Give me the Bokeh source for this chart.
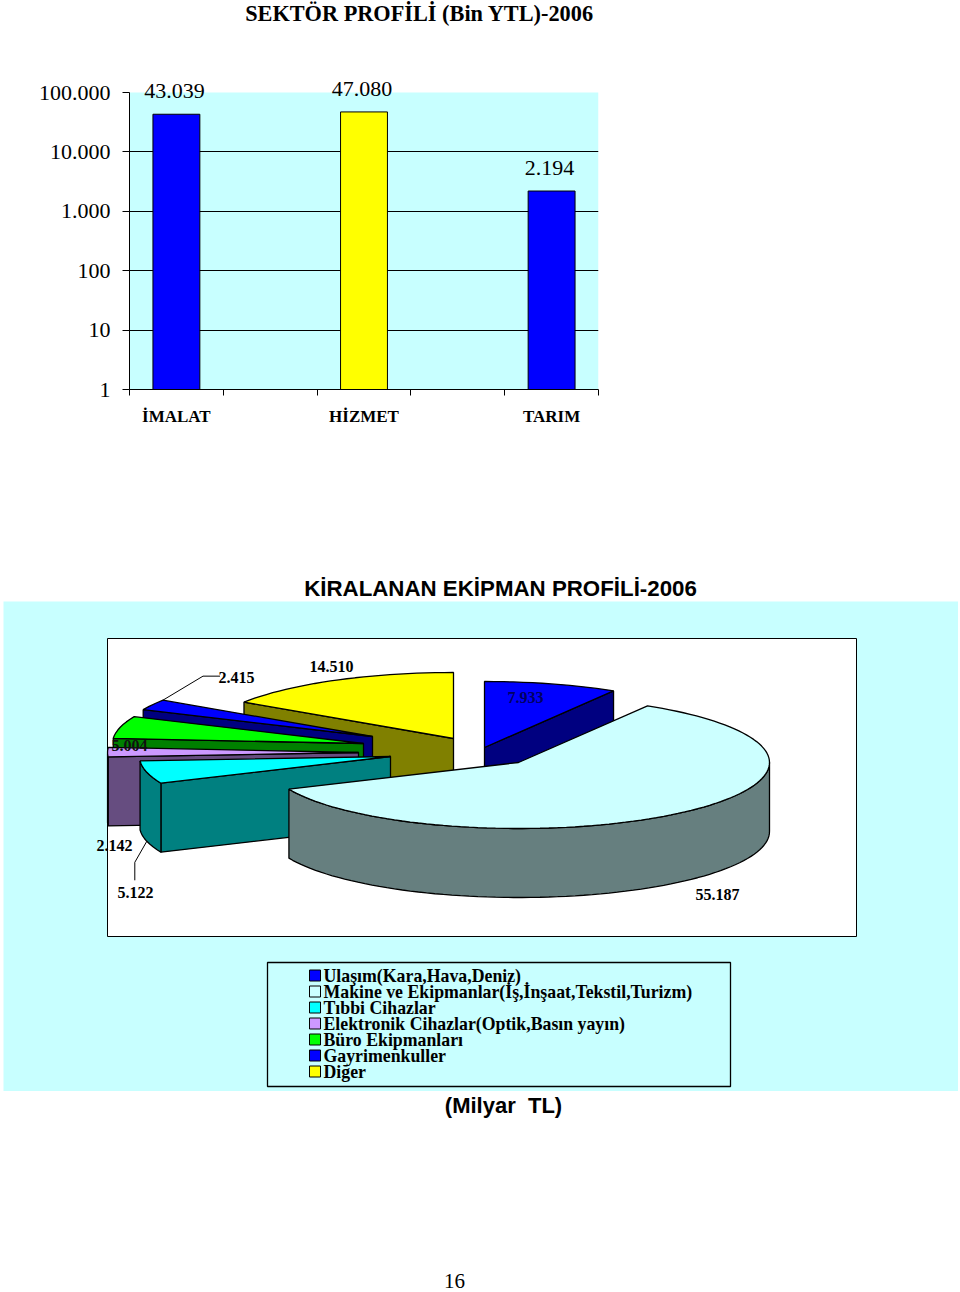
import numpy as np
from bokeh.embed import file_html
from bokeh.layouts import column
from bokeh.models import (BoxAnnotation, ColumnDataSource, FixedTicker, Grid, Label, LabelSet,
                          LinearAxis, Range1d)
from bokeh.plotting import figure
from bokeh.resources import INLINE

# ---- data: sector profile ----
sector_names = ["İMALAT", "HİZMET", "TARIM"]
sector_values = [43039, 47080, 2194]
sector_labels = ["43.039", "47.080", "2.194"]
sector_colors = ["#0000ff", "#ffff00", "#0000ff"]
log_ticks = [1, 10, 100, 1000, 10000, 100000]
log_tick_labels = ["1", "10", "100", "1.000", "10.000", "100.000"]

# ---- data: leased equipment profile ----
equipment_names = ["Ulaşım(Kara,Hava,Deniz)", "Makine ve Ekipmanlar(İş,İnşaat,Tekstil,Turizm)", "Tıbbi Cihazlar",
                   "Elektronik Cihazlar(Optik,Basın yayın)", "Büro Ekipmanları", "Gayrimenkuller", "Diğer"]
equipment_values = [7.933, 55.187, 5.122, 2.142, 5.004, 2.415, 14.510]
equipment_labels = ["7.933", "55.187", "5.122", "2.142", "5.004", "2.415", "14.510"]
top_colors = ["#0000ff", "#ccffff", "#00ffff", "#cc99ff", "#00ff00", "#0000ff", "#ffff00"]
side_colors = ["#000080", "#667f7f", "#008080", "#664d80", "#008000", "#000080", "#808000"]

CYAN = "#c8ffff"
SERIF = "Liberation Serif"
SANS = "Liberation Sans"


def text_strip(height, labels):
    """A bare strip of page that only carries text."""
    s = figure(width=960, height=height, output_backend="svg", toolbar_location=None, frame_align=False,
               x_range=Range1d(0, 1), y_range=Range1d(0, 1), x_axis_type=None, y_axis_type=None,
               min_border=0, outline_line_color=None)
    s.xgrid.visible = False
    s.ygrid.visible = False
    for kw in labels:
        s.add_layout(Label(x_units="screen", y_units="screen", text_align="center", text_baseline="middle",
                           text_color="black", **kw))
    return s


p0 = text_strip(70, [dict(x=419, y=57, text="SEKTÖR PROFİLİ (Bin YTL)-2006", text_font=SERIF,
                          text_font_style="bold", text_font_size="22.3px")])

# ---- bar chart ----
L, R, T, B = 129, 598, 70, 389
p1 = figure(width=960, height=400, output_backend="svg", toolbar_location=None, frame_align=False,
            x_range=Range1d(0, 5), y_range=Range1d(1, 10 ** (5 * (B - T) / 297)), y_axis_type="log",
            min_border_left=L, min_border_right=960 - R, min_border_top=0, min_border_bottom=400 - (B - T))
p1.outline_line_color = None
p1.xgrid.visible = False
p1.ygrid.visible = False
p1.quad(left=0, right=5, bottom=1, top=log_ticks[-1], fill_color=CYAN, line_color=None, level="image")
ax = p1.yaxis[0]
ax.ticker = FixedTicker(ticks=log_ticks)
ax.bounds = (1, log_ticks[-1])
ax.major_label_overrides = dict(zip(log_ticks, log_tick_labels))
ax.axis_line_color = "black"
ax.major_tick_line_color = "black"
ax.major_tick_in = 0
ax.major_tick_out = 7
ax.minor_tick_line_color = None
ax.major_label_standoff = 12
ax.major_label_text_font = SERIF
ax.major_label_text_font_size = "22px"
ax.major_label_text_color = "black"
p1.add_layout(Grid(dimension=1, ticker=FixedTicker(ticks=log_ticks[1:-1]), axis=ax, grid_line_color="black",
                   grid_line_width=1.2), "center")
xa = p1.xaxis[0]
xa.ticker = FixedTicker(ticks=list(range(6)))
xa.major_label_overrides = {i: " " for i in range(6)}
xa.axis_line_color = "black"
xa.major_tick_line_color = "black"
xa.major_tick_in = 0
xa.major_tick_out = 6
xa.minor_tick_line_color = None
xa.major_label_text_font_size = "1px"
xa.major_label_standoff = 0
bar_x = [0.5, 2.5, 4.5]
xb = LinearAxis(ticker=FixedTicker(ticks=bar_x), major_label_overrides=dict(zip(bar_x, sector_names)),
                axis_line_color=None, major_tick_line_color=None, minor_tick_line_color=None,
                major_label_standoff=1, major_label_text_font=SERIF, major_label_text_font_style="bold",
                major_label_text_font_size="17px", major_label_text_color="black")
p1.add_layout(xb, "below")
src1 = ColumnDataSource(dict(x=bar_x, top=sector_values, label=sector_labels, color=sector_colors,
                             bottom=[1, 1, 1]))
p1.vbar(x="x", top="top", bottom="bottom", width=0.5, fill_color="color", line_color="black", source=src1)
p1.add_layout(LabelSet(x="x", y="top", text="label", source=src1, y_offset=16, x_offset=-2, text_align="center",
                       text_baseline="bottom", text_font=SERIF, text_font_size="22px", text_color="black"))

pk = text_strip(131, [dict(x=500, y=13, text="KİRALANAN EKİPMAN PROFİLİ-2006", text_font=SANS,
                           text_font_style="bold", text_font_size="22.3px")])

# ---- 3-D exploded pie; data units are pixels of this cyan panel ----
PW, PH = 955, 490
p2 = figure(width=PW, height=PH, output_backend="svg", toolbar_location=None, frame_align=False,
            x_range=Range1d(0, PW), y_range=Range1d(0, PH), x_axis_type=None, y_axis_type=None,
            min_border=0, background_fill_color=CYAN, outline_line_color=None)
p2.xgrid.visible = False
p2.ygrid.visible = False
p2.styles = {"margin-left": "3px"}
p2.add_layout(BoxAnnotation(left=104, right=853, bottom=155, top=453, fill_color="white", fill_alpha=1,
                            line_color="black", line_alpha=1, line_width=1, level="underlay"))

RX, RY, DEPTH = 251, 66, 69
centers = [(481, 344), (515, 329), (387, 335), (355, 339), (360, 348), (369, 355), (450, 353)]
fractions = np.array(equipment_values) / sum(equipment_values)
bounds = 90 - 360 * np.concatenate([[0], np.cumsum(fractions)])
draw_order = [0, 6, 5, 4, 3, 2, 1]


def arc(i):
    n = max(4, int(abs(bounds[i + 1] - bounds[i]) / 2))
    t = np.radians(np.linspace(bounds[i], bounds[i + 1], n))
    return centers[i][0] + RX * np.cos(t), centers[i][1] + RY * np.sin(t)


def extrude(xs, ys, color):
    p2.patch(np.r_[xs, xs[::-1]], np.r_[ys, ys[::-1] - DEPTH], fill_color=color, line_color="black", line_width=1.3)


for i in draw_order:
    ax_, ay_ = arc(i)
    cx, cy = centers[i]
    # cut faces turned to the viewer
    if ax_[0] < cx:
        extrude(np.array([cx, ax_[0]]), np.array([cy, ay_[0]]), side_colors[i])
    if ax_[-1] > cx:
        extrude(np.array([cx, ax_[-1]]), np.array([cy, ay_[-1]]), side_colors[i])
    # rim, only the stretches that move left while walking clockwise
    idx = np.where(np.diff(ax_) < 0)[0]
    if len(idx):
        a, b = idx[0], idx[-1] + 2
        extrude(ax_[a:b], ay_[a:b], side_colors[i])
    p2.patch(np.r_[cx, ax_], np.r_[cy, ay_], fill_color=top_colors[i], line_color="black", line_width=1.3)

# data labels
label_x = [522, 714, 132, 111, 126, 233, 328]
label_y = [394, 197, 199, 246, 346, 414, 425]
label_colors = ["#000060", "black", "black", "black", "#101010", "black", "black"]
p2.add_layout(LabelSet(x="x", y="y", text="t", text_color="c",
                       source=ColumnDataSource(dict(x=label_x, y=label_y, t=equipment_labels, c=label_colors)),
                       text_align="center", text_baseline="middle", text_font=SERIF, text_font_style="bold",
                       text_font_size="16px"))
# leader lines from the rim to the labels
ax5, ay5 = arc(5)
p2.line([ax5[-1], ax5[-1] + 40, ax5[-1] + 57], [ay5[-1], ay5[-1] + 24, ay5[-1] + 24], line_color="black", line_width=1)
ax2, ay2 = arc(2)
m = len(ax2) // 2
base = ay2[m] - DEPTH
p2.line([ax2[m], ax2[m] - 12, ax2[m] - 12], [base, base - 21, base - 39], line_color="black", line_width=1)

# legend: rows 16 px apart (tighter than a Legend model can set)
legend_rows = [116 - 16 * k for k in range(len(equipment_names))]
leg = ColumnDataSource(dict(x=[311.5] * 7, tx=[320] * 7, y=legend_rows, name=equipment_names, color=top_colors))
p2.scatter(x="x", y="y", marker="square", size=11, fill_color="color", line_color="black", line_width=1, source=leg)
p2.add_layout(LabelSet(x="tx", y="y", text="name", source=leg, text_align="left", text_baseline="middle",
                       text_font=SERIF, text_font_style="bold", text_font_size="17.8px", text_color="black"))
p2.add_layout(BoxAnnotation(left=264, right=727, bottom=5, top=129, fill_alpha=0, line_color="black", line_alpha=1,
                            line_width=1.3, level="annotation"))

# ---- foot ----
p3 = text_strip(201, [dict(x=503, y=187, text="(Milyar\u00a0\u00a0TL)", text_font=SANS, text_font_style="bold",
                           text_font_size="22px"),
                      dict(x=454, y=12, text="16", text_font=SERIF, text_font_size="21px")])

page = column(p0, p1, pk, p2, p3, spacing=0, margin=(0, 0, 0, 0))
open("out.html", "w").write(file_html(page, INLINE))
